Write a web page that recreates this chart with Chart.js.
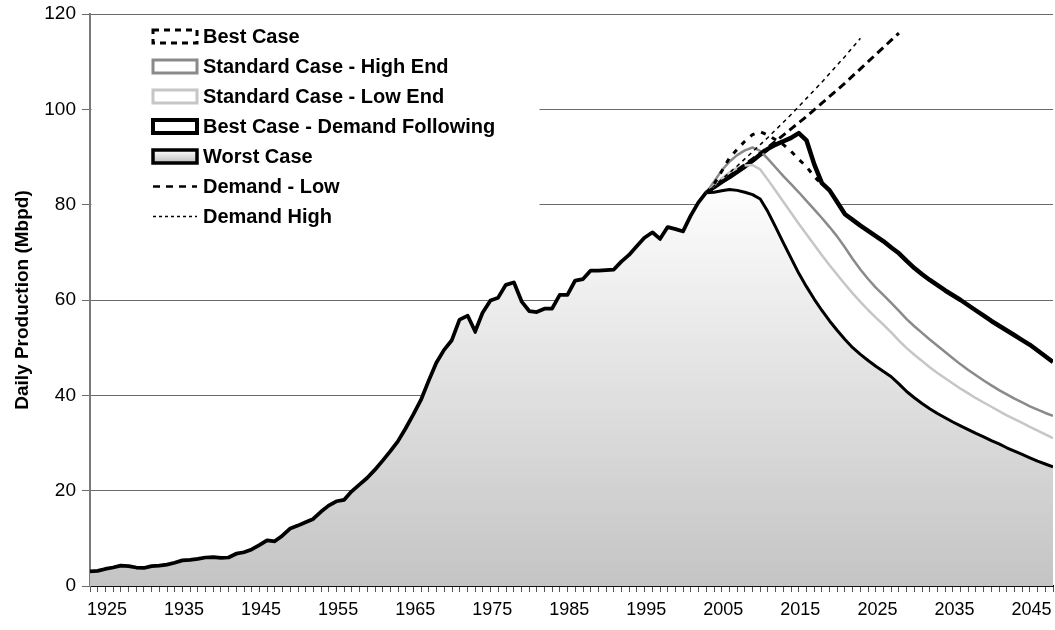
<!DOCTYPE html>
<html>
<head>
<meta charset="utf-8">
<title>Daily Production scenarios</title>
<script src="https://cdn.jsdelivr.net/npm/chart.js@4.4.1/dist/chart.umd.min.js"></script>
<style>
html, body { margin: 0; padding: 0; background: #ffffff; }
#box { position: relative; width: 1055px; height: 630px; }
</style>
</head>
<body>
<div id="box"><canvas id="chart" width="1055" height="630"></canvas></div>
<script>
// ---------------- DATA ----------------
const historyStartYear = 1925;
const projectionStartYear = 2005;
const axisEndYear = 2050;

// Historical daily production 1925-2005 (Mbpd)
const historyValues = [
  3.0, 3.1, 3.5, 3.8, 4.2, 4.1, 3.8, 3.7, 4.1, 4.2,        // 1925-1934
  4.4, 4.8, 5.3, 5.4, 5.6, 5.9, 6.0, 5.8, 5.9, 6.7,        // 1935-1944
  7.0, 7.6, 8.5, 9.5, 9.3, 10.5, 12.0, 12.6, 13.3, 14.0,   // 1945-1954
  15.5, 16.8, 17.7, 18.0, 19.8, 21.2, 22.6, 24.3, 26.2, 28.2, // 1955-1964
  30.3, 33.0, 35.9, 39.0, 43.0, 46.8, 49.5, 51.5, 55.8, 56.6, // 1965-1974
  53.2, 57.3, 59.8, 60.4, 63.1, 63.6, 59.6, 57.6, 57.4, 58.1, // 1975-1984
  58.1, 61.0, 61.0, 64.0, 64.3, 66.1, 66.1, 66.2, 66.3, 68.0, // 1985-1994
  69.4, 71.2, 73.0, 74.1, 72.7, 75.2, 74.8, 74.3, 77.6, 80.4, // 1995-2004
  82.5                                                       // 2005
];

// Projections 2005-2050
const bestCaseDemandFollowing = [
  82.5, 83.7, 84.8, 85.8, 86.9, 88.0, 89.2, 90.5, 91.7, 92.6,
  93.3, 94.0, 95.0, 93.5, 88.5, 84.5, 83.0, 80.5, 78.0, 76.8,
  75.6, 74.5, 73.4, 72.3, 71.0, 69.8, 68.2, 66.7, 65.4, 64.2,
  63.1, 62.0, 61.0, 60.0, 58.9, 57.8, 56.7, 55.6, 54.6, 53.6,
  52.6, 51.6, 50.6, 49.4, 48.2, 47.0
];
const worstCase = [
  82.5, 82.6, 82.9, 83.2, 83.0, 82.6, 82.1, 81.2, 78.5, 75.3,
  72.0, 68.8, 65.6, 62.8, 60.2, 57.8, 55.6, 53.6, 51.7, 50.0,
  48.6, 47.3, 46.1, 45.0, 43.9, 42.4, 40.8, 39.5, 38.3, 37.2,
  36.2, 35.3, 34.4, 33.6, 32.8, 32.0, 31.3, 30.5, 29.8, 29.0,
  28.3, 27.6, 26.9, 26.2, 25.6, 25.0
];
const standardHighEnd = [
  82.5, 84.8, 87.2, 89.0, 90.4, 91.4, 92.0, 91.3, 89.6, 87.8,
  86.0, 84.3, 82.6, 80.8, 79.0, 77.2, 75.3, 73.3, 71.0, 68.6,
  66.4, 64.4, 62.6, 61.0, 59.4, 57.7, 56.0, 54.5, 53.1, 51.7,
  50.4, 49.1, 47.8, 46.5, 45.3, 44.2, 43.1, 42.1, 41.1, 40.2,
  39.3, 38.5, 37.7, 37.0, 36.3, 35.7
];
const standardLowEnd = [
  82.5, 84.0, 85.5, 86.8, 87.7, 88.2, 88.3, 87.4, 85.2, 82.9,
  80.6, 78.3, 76.0, 73.8, 71.6, 69.4, 67.3, 65.3, 63.3, 61.4,
  59.6, 57.9, 56.3, 54.8, 53.2, 51.5, 49.9, 48.5, 47.2, 45.9,
  44.7, 43.6, 42.5, 41.4, 40.4, 39.4, 38.5, 37.6, 36.7, 35.8,
  35.0, 34.2, 33.4, 32.6, 31.8, 31.0
];
// Best Case 2005-2020
const bestCase = [
  82.5, 84.3, 87.0, 89.8, 91.6, 93.3, 94.7, 95.3, 94.6, 93.6,
  92.6, 91.2, 89.5, 88.0, 85.9, 84.3
];
// Demand - Low 2005-2030
const demandLow = [
  82.5, 83.6, 84.8, 86.0, 87.2, 88.4, 89.6, 90.8, 92.0, 93.3,
  94.6, 95.9, 97.2, 98.5, 99.9, 101.3, 102.7, 104.1, 105.5, 107.0,
  108.5, 110.0, 111.5, 113.0, 114.5, 116.0
];
// Demand High 2005-2025
const demandHigh = [
  82.5, 83.9, 85.3, 86.7, 88.1, 89.6, 91.1, 92.6, 94.1, 95.7,
  97.3, 98.9, 100.6, 102.3, 104.0, 105.7, 107.5, 109.3, 111.1, 113.0,
  114.9
];

const seriesNames = [
  'Best Case',
  'Standard Case - High End',
  'Standard Case - Low End',
  'Best Case - Demand Following',
  'Worst Case',
  'Demand - Low',
  'Demand High'
];

const xTickLabels = [1925, 1935, 1945, 1955, 1965, 1975, 1985, 1995, 2005, 2015, 2025, 2035, 2045];
const yTickValues = [0, 20, 40, 60, 80, 100, 120];
const yAxisTitle = 'Daily Production (Mbpd)';

// ---------------- HELPERS ----------------
const FONT = "'Liberation Sans', Arial, Helvetica, sans-serif";

function toPoints(startYear, values) {
  return values.map((v, i) => ({ x: startYear + i, y: v }));
}
const histPoints = toPoints(historyStartYear, historyValues);
function withHistory(values) {
  return histPoints.concat(toPoints(projectionStartYear, values).slice(1));
}
const yearTicks = [];
for (let yr = historyStartYear; yr <= axisEndYear; yr++) yearTicks.push(yr);

function areaGradient(c) {
  const chart = c.chart;
  const { ctx, chartArea, scales } = chart;
  if (!chartArea) return '#dddddd';
  const yTop = scales.y.getPixelForValue(86);
  const yBot = scales.y.getPixelForValue(0);
  const g = ctx.createLinearGradient(0, yTop, 0, yBot);
  g.addColorStop(0, '#ffffff');
  g.addColorStop(1, '#c4c4c4');
  return g;
}

// legend styles, in legend order
const legendStyles = [
  { kind: 'box', stroke: '#000000', fill: '#ffffff', width: 3, dash: [6, 5] },
  { kind: 'box', stroke: '#8a8a8a', fill: '#ffffff', width: 3, dash: [] },
  { kind: 'box', stroke: '#c6c6c6', fill: '#ffffff', width: 3, dash: [] },
  { kind: 'box', stroke: '#000000', fill: '#ffffff', width: 4, dash: [] },
  { kind: 'box', stroke: '#000000', fill: 'gradient', width: 3.5, dash: [] },
  { kind: 'line', stroke: '#000000', width: 2.5, dash: [7, 6] },
  { kind: 'line', stroke: '#000000', width: 1.5, dash: [3, 3] }
];

const insideLegend = {
  id: 'insideLegend',
  afterDatasetsDraw(chart) {
    const { ctx, chartArea } = chart;
    ctx.save();
    ctx.fillStyle = '#ffffff';
    ctx.fillRect(chartArea.left + 1.5, chartArea.top + 1.5, 448, 221);
    ctx.font = 'bold 20px ' + FONT;
    ctx.textBaseline = 'middle';
    ctx.textAlign = 'left';
    const boxX = chartArea.left + 63;
    const boxW = 44, boxH = 13;
    seriesNames.forEach((name, i) => {
      const st = legendStyles[i];
      const cy = chartArea.top + 22.5 + i * 30;
      ctx.setLineDash(st.dash);
      ctx.lineWidth = st.width;
      ctx.strokeStyle = st.stroke;
      if (st.kind === 'box') {
        if (st.fill === 'gradient') {
          const g = ctx.createLinearGradient(0, cy - boxH / 2, 0, cy + boxH / 2);
          g.addColorStop(0, '#ffffff');
          g.addColorStop(1, '#bdbdbd');
          ctx.fillStyle = g;
        } else {
          ctx.fillStyle = st.fill;
        }
        ctx.fillRect(boxX, cy - boxH / 2, boxW, boxH);
        ctx.strokeRect(boxX, cy - boxH / 2, boxW, boxH);
      } else {
        ctx.beginPath();
        ctx.moveTo(boxX, cy);
        ctx.lineTo(boxX + boxW, cy);
        ctx.stroke();
      }
      ctx.setLineDash([]);
      ctx.fillStyle = '#000000';
      ctx.fillText(name, boxX + boxW + 6, cy + 1);
    });
    ctx.restore();
  }
};

// ---------------- CHART ----------------
const lineBase = { pointRadius: 0, pointHoverRadius: 0, tension: 0, fill: false,
                   borderJoinStyle: 'round', borderCapStyle: 'butt' };

new Chart(document.getElementById('chart'), {
  type: 'line',
  data: {
    datasets: [
      Object.assign({}, lineBase, {
        label: seriesNames[6], data: toPoints(projectionStartYear, demandHigh),
        borderColor: '#000000', borderWidth: 1.5, borderDash: [4, 4], order: 0
      }),
      Object.assign({}, lineBase, {
        label: seriesNames[5], data: toPoints(projectionStartYear, demandLow),
        borderColor: '#000000', borderWidth: 3, borderDash: [8, 5], order: 1
      }),
      Object.assign({}, lineBase, {
        label: seriesNames[0], data: toPoints(projectionStartYear, bestCase),
        borderColor: '#000000', borderWidth: 3, borderDash: [5, 7], order: 2
      }),
      Object.assign({}, lineBase, {
        label: seriesNames[2], data: toPoints(projectionStartYear, standardLowEnd),
        borderColor: '#c6c6c6', borderWidth: 2.5, order: 3
      }),
      Object.assign({}, lineBase, {
        label: seriesNames[1], data: toPoints(projectionStartYear, standardHighEnd),
        borderColor: '#8a8a8a', borderWidth: 2.5, order: 4
      }),
      Object.assign({}, lineBase, {
        label: seriesNames[4], data: withHistory(worstCase),
        borderColor: '#000000', borderWidth: 3, fill: 'origin',
        backgroundColor: areaGradient, order: 5
      }),
      Object.assign({}, lineBase, {
        label: seriesNames[3], data: withHistory(bestCaseDemandFollowing),
        borderColor: '#000000', borderWidth: 4.5, fill: 'origin',
        backgroundColor: '#ffffff', order: 6
      })
    ]
  },
  options: {
    responsive: false,
    animation: false,
    events: [],
    layout: { padding: { left: 6, right: 2, top: 14, bottom: 0 } },
    plugins: {
      legend: { display: false },
      tooltip: { enabled: false },
      title: { display: false }
    },
    scales: {
      x: {
        type: 'linear',
        min: historyStartYear,
        max: axisEndYear,
        afterBuildTicks: (axis) => { axis.ticks = yearTicks.map(v => ({ value: v })); },
        afterFit: (axis) => { axis.height = 44; axis.paddingLeft = 0; axis.paddingRight = 0; },
        ticks: {
          autoSkip: false, maxRotation: 0, minRotation: 0, padding: 7, labelOffset: 17,
          color: '#000000', font: { family: FONT, size: 18 },
          callback: (v) => (xTickLabels.includes(v) ? String(v) : '')
        },
        grid: { drawOnChartArea: false, drawTicks: true, tickLength: 6, color: '#555555', lineWidth: 1 },
        border: { display: true, color: '#111111', width: 2 }
      },
      y: {
        type: 'linear',
        min: 0,
        max: 120,
        afterBuildTicks: (axis) => { axis.ticks = yTickValues.map(v => ({ value: v })); },
        afterFit: (axis) => { axis.width = 84; axis.paddingTop = 0; axis.paddingBottom = 0; },
        ticks: { padding: 6, color: '#000000', font: { family: FONT, size: 19 } },
        grid: { color: '#6a6a6a', lineWidth: 1, tickLength: 8, drawTicks: true },
        border: { display: true, color: '#7a7a7a', width: 2 },
        title: {
          display: true, text: yAxisTitle, color: '#000000',
          font: { family: FONT, size: 19, weight: 'bold' },
          padding: { top: 5, bottom: 0 }
        }
      }
    }
  },
  plugins: [insideLegend]
});
</script>
</body>
</html>
